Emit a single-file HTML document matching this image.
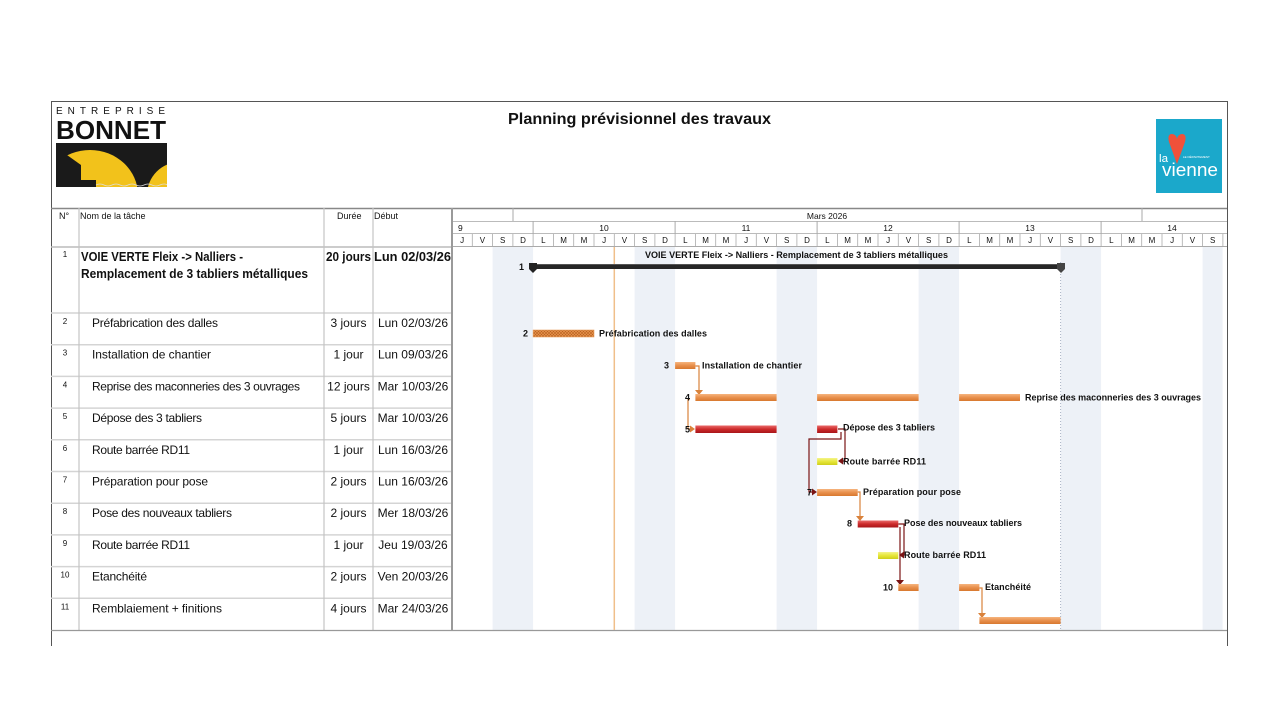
<!DOCTYPE html>
<html><head><meta charset="utf-8"><style>
html,body{margin:0;padding:0;background:#fff;}
svg{display:block;}
text{font-family:"Liberation Sans",sans-serif;fill:#111;}
.b{font-weight:bold;}
</style></head><body>
<svg width="1280" height="720" viewBox="0 0 1280 720" xmlns="http://www.w3.org/2000/svg">
<defs>
<linearGradient id="gO" x1="0" y1="0" x2="0" y2="1"><stop offset="0" stop-color="#f6b47e"/><stop offset="0.5" stop-color="#e8904c"/><stop offset="1" stop-color="#d8782f"/></linearGradient>
<linearGradient id="gR" x1="0" y1="0" x2="0" y2="1"><stop offset="0" stop-color="#ea6a6a"/><stop offset="0.5" stop-color="#cc2a2a"/><stop offset="1" stop-color="#a8161a"/></linearGradient>
<linearGradient id="gY" x1="0" y1="0" x2="0" y2="1"><stop offset="0" stop-color="#f4f48a"/><stop offset="0.5" stop-color="#e6e63a"/><stop offset="1" stop-color="#cfcf1c"/></linearGradient>
<pattern id="hatch" width="3" height="3" patternUnits="userSpaceOnUse"><rect width="3" height="3" fill="#e8944e"/><path d="M0,0 L3,3 M3,0 L0,3" stroke="#b8601e" stroke-width="0.6"/></pattern>
<clipPath id="logoClip"><rect x="56" y="143" width="111" height="44"/></clipPath>
</defs>

<!-- frame -->
<rect x="51" y="101" width="1176" height="560" fill="#fff"/>
<line x1="51" y1="101.5" x2="1227" y2="101.5" stroke="#555" stroke-width="1"/>
<line x1="51.5" y1="101" x2="51.5" y2="646" stroke="#555" stroke-width="1"/>
<line x1="1227.5" y1="101" x2="1227.5" y2="646" stroke="#555" stroke-width="1"/>

<!-- Bonnet logo -->
<text x="56" y="114" font-size="10" textLength="109" lengthAdjust="spacing">ENTREPRISE</text>
<text x="56" y="139" font-size="26" class="b" textLength="110" lengthAdjust="spacingAndGlyphs" style="fill:#111">BONNET</text>
<rect x="56" y="143" width="111" height="44" fill="#1a1a1a"/>
<g clip-path="url(#logoClip)">
<ellipse cx="90" cy="195" rx="48" ry="45" fill="#f2c21b"/>
<circle cx="180" cy="195" r="33" fill="#f2c21b"/>
<polygon points="56,161 67,155 81,165 81,180 96,180 96,187 56,187" fill="#1a1a1a"/>
<path d="M96,185 q4,-2 8,0 t8,0 t8,0 t8,0 t8,0 t8,0 t8,0 t8,0 t8,0" stroke="#ddd" stroke-width="0.8" fill="none"/>
</g>

<!-- Title -->
<text x="508" y="124" font-size="16" class="b" textLength="263" lengthAdjust="spacingAndGlyphs">Planning prévisionnel des travaux</text>

<!-- Vienne logo -->
<rect x="1156" y="119" width="66" height="74" fill="#1ba8cb"/>
<path d="M1177,164 L1169,142 Q1167,134 1172,134 Q1176,134 1177,139 Q1178,134 1182,134 Q1187,134 1185,142 Z" fill="#f0513a"/>
<text x="1159" y="162" font-size="11" style="fill:#fff" textLength="9" lengthAdjust="spacingAndGlyphs">la</text>
<text x="1183" y="158" font-size="3" style="fill:#fff">LE DÉPARTEMENT</text>
<text x="1162" y="176" font-size="18" style="fill:#fff" textLength="56" lengthAdjust="spacingAndGlyphs">vienne</text>

<!-- weekend shading -->
<g fill="#edf1f7">
<rect x="492.6" y="247" width="40.5" height="383"/>
<rect x="634.6" y="247" width="40.5" height="383"/>
<rect x="776.6" y="247" width="40.5" height="383"/>
<rect x="918.6" y="247" width="40.5" height="383"/>
<rect x="1060.6" y="247" width="40.5" height="383"/>
<rect x="1202.6" y="247" width="20" height="383"/>
</g>

<!-- header separator lines -->
<line x1="51" y1="208.5" x2="1227" y2="208.5" stroke="#888" stroke-width="1.5"/>
<line x1="51" y1="247" x2="452" y2="247" stroke="#bbb" stroke-width="1.5"/>
<line x1="452" y1="246.5" x2="1227" y2="246.5" stroke="#aaa" stroke-width="1"/>
<line x1="452" y1="221.5" x2="1227" y2="221.5" stroke="#bbb" stroke-width="1"/>
<line x1="452" y1="233.5" x2="1227" y2="233.5" stroke="#bbb" stroke-width="1"/>
<line x1="513" y1="208" x2="513" y2="221" stroke="#aaa"/>
<line x1="1142" y1="208" x2="1142" y2="221" stroke="#aaa"/>
<!-- week separators -->
<g stroke="#aaa" stroke-width="1">
<line x1="533.1" y1="221" x2="533.1" y2="234"/>
<line x1="675.1" y1="221" x2="675.1" y2="234"/>
<line x1="817.1" y1="221" x2="817.1" y2="234"/>
<line x1="959.1" y1="221" x2="959.1" y2="234"/>
<line x1="1101.1" y1="221" x2="1101.1" y2="234"/>
</g>
<!-- day separators -->
<g stroke="#aaa" stroke-width="0.8">
<line x1="472.3" y1="234" x2="472.3" y2="246"/><line x1="492.6" y1="234" x2="492.6" y2="246"/><line x1="512.9" y1="234" x2="512.9" y2="246"/><line x1="533.1" y1="234" x2="533.1" y2="246"/><line x1="553.4" y1="234" x2="553.4" y2="246"/><line x1="573.7" y1="234" x2="573.7" y2="246"/><line x1="594.0" y1="234" x2="594.0" y2="246"/><line x1="614.3" y1="234" x2="614.3" y2="246"/><line x1="634.6" y1="234" x2="634.6" y2="246"/><line x1="654.9" y1="234" x2="654.9" y2="246"/><line x1="675.1" y1="234" x2="675.1" y2="246"/><line x1="695.4" y1="234" x2="695.4" y2="246"/><line x1="715.7" y1="234" x2="715.7" y2="246"/><line x1="736.0" y1="234" x2="736.0" y2="246"/><line x1="756.3" y1="234" x2="756.3" y2="246"/><line x1="776.6" y1="234" x2="776.6" y2="246"/><line x1="796.9" y1="234" x2="796.9" y2="246"/><line x1="817.1" y1="234" x2="817.1" y2="246"/><line x1="837.4" y1="234" x2="837.4" y2="246"/><line x1="857.7" y1="234" x2="857.7" y2="246"/><line x1="878.0" y1="234" x2="878.0" y2="246"/><line x1="898.3" y1="234" x2="898.3" y2="246"/><line x1="918.6" y1="234" x2="918.6" y2="246"/><line x1="938.9" y1="234" x2="938.9" y2="246"/><line x1="959.1" y1="234" x2="959.1" y2="246"/><line x1="979.4" y1="234" x2="979.4" y2="246"/><line x1="999.7" y1="234" x2="999.7" y2="246"/><line x1="1020.0" y1="234" x2="1020.0" y2="246"/><line x1="1040.3" y1="234" x2="1040.3" y2="246"/><line x1="1060.6" y1="234" x2="1060.6" y2="246"/><line x1="1080.9" y1="234" x2="1080.9" y2="246"/><line x1="1101.1" y1="234" x2="1101.1" y2="246"/><line x1="1121.4" y1="234" x2="1121.4" y2="246"/><line x1="1141.7" y1="234" x2="1141.7" y2="246"/><line x1="1162.0" y1="234" x2="1162.0" y2="246"/><line x1="1182.3" y1="234" x2="1182.3" y2="246"/><line x1="1202.6" y1="234" x2="1202.6" y2="246"/><line x1="1222.9" y1="234" x2="1222.9" y2="246"/>
</g>

<!-- timescale text -->
<text x="827" y="219" font-size="8.5" text-anchor="middle">Mars 2026</text>
<g font-size="8.5">
<text x="458" y="231">9</text>
<text x="604" y="231" text-anchor="middle">10</text>
<text x="746" y="231" text-anchor="middle">11</text>
<text x="888" y="231" text-anchor="middle">12</text>
<text x="1030" y="231" text-anchor="middle">13</text>
<text x="1172" y="231" text-anchor="middle">14</text>
</g>
<g font-size="8" text-anchor="middle">
<text x="462.1" y="243">J</text><text x="482.4" y="243">V</text><text x="502.7" y="243">S</text><text x="523.0" y="243">D</text>
<text x="543.3" y="243">L</text><text x="563.6" y="243">M</text><text x="583.9" y="243">M</text><text x="604.1" y="243">J</text><text x="624.4" y="243">V</text><text x="644.7" y="243">S</text><text x="665.0" y="243">D</text>
<text x="685.3" y="243">L</text><text x="705.6" y="243">M</text><text x="725.9" y="243">M</text><text x="746.1" y="243">J</text><text x="766.4" y="243">V</text><text x="786.7" y="243">S</text><text x="807.0" y="243">D</text>
<text x="827.3" y="243">L</text><text x="847.6" y="243">M</text><text x="867.9" y="243">M</text><text x="888.1" y="243">J</text><text x="908.4" y="243">V</text><text x="928.7" y="243">S</text><text x="949.0" y="243">D</text>
<text x="969.3" y="243">L</text><text x="989.6" y="243">M</text><text x="1009.9" y="243">M</text><text x="1030.1" y="243">J</text><text x="1050.4" y="243">V</text><text x="1070.7" y="243">S</text><text x="1091.0" y="243">D</text>
<text x="1111.3" y="243">L</text><text x="1131.6" y="243">M</text><text x="1151.9" y="243">M</text><text x="1172.1" y="243">J</text><text x="1192.4" y="243">V</text><text x="1212.7" y="243">S</text>
</g>

<!-- table grid -->
<g stroke="#d4d4d4" stroke-width="1.5">
<line x1="51" y1="313" x2="452" y2="313"/>
<line x1="51" y1="344.7" x2="452" y2="344.7"/>
<line x1="51" y1="376.4" x2="452" y2="376.4"/>
<line x1="51" y1="408.1" x2="452" y2="408.1"/>
<line x1="51" y1="439.8" x2="452" y2="439.8"/>
<line x1="51" y1="471.5" x2="452" y2="471.5"/>
<line x1="51" y1="503.2" x2="452" y2="503.2"/>
<line x1="51" y1="534.9" x2="452" y2="534.9"/>
<line x1="51" y1="566.6" x2="452" y2="566.6"/>
<line x1="51" y1="598.3" x2="452" y2="598.3"/>
</g>
<g stroke="#c4c4c4" stroke-width="1.2">
<line x1="79" y1="208" x2="79" y2="630"/>
<line x1="324" y1="208" x2="324" y2="630"/>
<line x1="373" y1="208" x2="373" y2="630"/>
</g>
<line x1="452" y1="208" x2="452" y2="630" stroke="#9a9a9a" stroke-width="2"/>
<line x1="51" y1="630.5" x2="1227" y2="630.5" stroke="#999" stroke-width="1.2"/>

<!-- table header -->
<g font-size="9">
<text x="59" y="219">N°</text>
<text x="80" y="219">Nom de la tâche</text>
<text x="337" y="219">Durée</text>
<text x="374" y="219">Début</text>
</g>

<!-- row 1 -->
<text x="65" y="257" font-size="8" text-anchor="middle">1</text>
<text x="81" y="261" font-size="13" class="b" textLength="162" lengthAdjust="spacingAndGlyphs">VOIE VERTE Fleix -&gt; Nalliers -</text>
<text x="81" y="278" font-size="13" class="b" textLength="227" lengthAdjust="spacingAndGlyphs">Remplacement de 3 tabliers métalliques</text>
<text x="326" y="261" font-size="13" class="b" textLength="45" lengthAdjust="spacingAndGlyphs">20 jours</text>
<text x="374" y="261" font-size="13" class="b" textLength="77" lengthAdjust="spacingAndGlyphs">Lun 02/03/26</text>

<!-- rows 2-11 -->
<g font-size="8" text-anchor="middle">
<text x="65" y="324">2</text>
<text x="65" y="355.7">3</text>
<text x="65" y="387.4">4</text>
<text x="65" y="419.1">5</text>
<text x="65" y="450.8">6</text>
<text x="65" y="482.5">7</text>
<text x="65" y="514.2">8</text>
<text x="65" y="545.9">9</text>
<text x="65" y="577.6">10</text>
<text x="65" y="609.3">11</text>
</g>
<g font-size="12" lengthAdjust="spacingAndGlyphs">
<text x="92" y="327" textLength="126">Préfabrication des dalles</text>
<text x="92" y="358.7" textLength="119">Installation de chantier</text>
<text x="92" y="390.4" textLength="208">Reprise des maconneries des 3 ouvrages</text>
<text x="92" y="422.1" textLength="110">Dépose des 3 tabliers</text>
<text x="92" y="453.8" textLength="98">Route barrée RD11</text>
<text x="92" y="485.5" textLength="116">Préparation pour pose</text>
<text x="92" y="517.2" textLength="140">Pose des nouveaux tabliers</text>
<text x="92" y="548.9" textLength="98">Route barrée RD11</text>
<text x="92" y="580.6" textLength="55">Etanchéité</text>
<text x="92" y="612.3" textLength="130">Remblaiement + finitions</text>
</g>
<g font-size="12" text-anchor="middle">
<text x="348.5" y="327">3 jours</text>
<text x="348.5" y="358.7">1 jour</text>
<text x="348.5" y="390.4">12 jours</text>
<text x="348.5" y="422.1">5 jours</text>
<text x="348.5" y="453.8">1 jour</text>
<text x="348.5" y="485.5">2 jours</text>
<text x="348.5" y="517.2">2 jours</text>
<text x="348.5" y="548.9">1 jour</text>
<text x="348.5" y="580.6">2 jours</text>
<text x="348.5" y="612.3">4 jours</text>
</g>
<g font-size="12" text-anchor="middle">
<text x="413" y="327">Lun 02/03/26</text>
<text x="413" y="358.7">Lun 09/03/26</text>
<text x="413" y="390.4">Mar 10/03/26</text>
<text x="413" y="422.1">Mar 10/03/26</text>
<text x="413" y="453.8">Lun 16/03/26</text>
<text x="413" y="485.5">Lun 16/03/26</text>
<text x="413" y="517.2">Mer 18/03/26</text>
<text x="413" y="548.9">Jeu 19/03/26</text>
<text x="413" y="580.6">Ven 20/03/26</text>
<text x="413" y="612.3">Mar 24/03/26</text>
</g>

<!-- today line and deadline dotted -->
<line x1="614.3" y1="247" x2="614.3" y2="630" stroke="#f0bf8a" stroke-width="1.5"/>
<line x1="1060.6" y1="262" x2="1060.6" y2="630" stroke="#a8b2c4" stroke-width="1" stroke-dasharray="1,2"/>

<!-- summary bar -->
<rect x="533" y="264" width="528" height="5" fill="#262626"/>
<line x1="533" y1="264.5" x2="1061" y2="264.5" stroke="#666" stroke-width="0.8"/>
<polygon points="529,263 537,263 537,269 533,273 529,269" fill="#222"/>
<polygon points="1057,263 1065,263 1065,269 1061,273 1057,269" fill="#444"/>
<text x="524" y="270" font-size="9" class="b" text-anchor="end">1</text>
<text x="645" y="258" font-size="9" class="b" textLength="303" lengthAdjust="spacingAndGlyphs">VOIE VERTE Fleix -&gt; Nalliers - Remplacement de 3 tabliers métalliques</text>

<!-- connectors -->
<g fill="none" stroke-width="1.2">
<path d="M695.4,366 H699 V390" stroke="#d9823b"/>
<path d="M690,399 H688 V429 H692" stroke="#d9823b"/>
<path d="M838,429 H845 V461 H842" stroke="#7a1414"/>
<path d="M841,432 V439 H809 V492 H813" stroke="#7a1414"/>
<path d="M857.7,492 H860 V517" stroke="#d9823b"/>
<path d="M898.3,524 H904 V555 H902" stroke="#7a1414"/>
<path d="M900,527 V581" stroke="#7a1414"/>
<path d="M979.4,588 H982 V614" stroke="#d9823b"/>
</g>
<g>
<polygon points="695,390 703,390 699,395" fill="#d9823b"/>
<polygon points="690,425.5 690,432.5 695,429" fill="#d9823b"/>
<polygon points="843,457.5 843,464.5 838,461" fill="#7a1414"/>
<polygon points="812,488.5 812,495.5 817,492" fill="#7a1414"/>
<polygon points="856,516 864,516 860,521" fill="#d9823b"/>
<polygon points="904,551.5 904,558.5 899,555" fill="#7a1414"/>
<polygon points="896,580 904,580 900,585" fill="#7a1414"/>
<polygon points="978,613 986,613 982,618" fill="#d9823b"/>
</g>

<!-- bars -->
<rect x="533.1" y="330" width="60.9" height="7" fill="url(#hatch)" stroke="#e8a060" stroke-width="0.6"/>
<rect x="675.1" y="362" width="20.3" height="7" fill="url(#gO)"/>
<rect x="695.4" y="394" width="81.2" height="7" fill="url(#gO)"/>
<rect x="817.1" y="394" width="101.5" height="7" fill="url(#gO)"/>
<rect x="959.1" y="394" width="60.9" height="7" fill="url(#gO)"/>
<rect x="695.4" y="425.5" width="81.2" height="7.5" fill="url(#gR)"/>
<rect x="817.1" y="425.5" width="20.3" height="7.5" fill="url(#gR)"/>
<rect x="817.1" y="458" width="20.3" height="7" fill="url(#gY)"/>
<rect x="817.1" y="489" width="40.6" height="7" fill="url(#gO)"/>
<rect x="857.7" y="520.5" width="40.6" height="7" fill="url(#gR)"/>
<rect x="878" y="552" width="20.3" height="7" fill="url(#gY)"/>
<rect x="898.3" y="584" width="20.3" height="7" fill="url(#gO)"/>
<rect x="959.1" y="584" width="20.3" height="7" fill="url(#gO)"/>
<rect x="979.4" y="617" width="81.2" height="7" fill="url(#gO)"/>

<!-- bar labels -->
<g font-size="9" class="b" lengthAdjust="spacingAndGlyphs">
<text x="528" y="336.5" text-anchor="end">2</text>
<text x="599" y="336.5" textLength="108">Préfabrication des dalles</text>
<text x="669" y="368.5" text-anchor="end">3</text>
<text x="702" y="368.5" textLength="100">Installation de chantier</text>
<text x="690" y="400.5" text-anchor="end">4</text>
<text x="1025" y="400.5" textLength="176">Reprise des maconneries des 3 ouvrages</text>
<text x="690" y="432.5" text-anchor="end">5</text>
<text x="843" y="430.5" textLength="92">Dépose des 3 tabliers</text>
<text x="843" y="464.5" textLength="83">Route barrée RD11</text>
<text x="812" y="495.5" text-anchor="end">7</text>
<text x="863" y="495" textLength="98">Préparation pour pose</text>
<text x="852" y="526.5" text-anchor="end">8</text>
<text x="904" y="526" textLength="118">Pose des nouveaux tabliers</text>
<text x="904" y="558" textLength="82">Route barrée RD11</text>
<text x="893" y="590.5" text-anchor="end">10</text>
<text x="985" y="590" textLength="46">Etanchéité</text>
</g>
</svg>
</body></html>
